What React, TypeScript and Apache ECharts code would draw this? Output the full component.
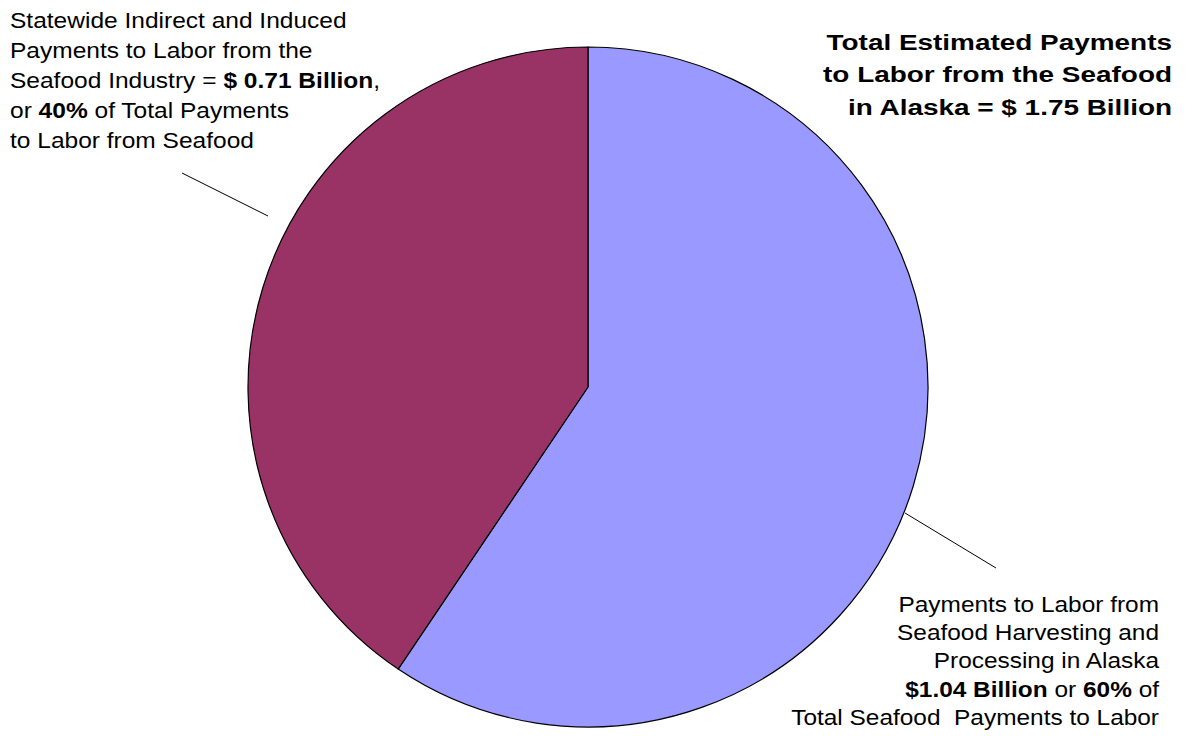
import React, { useEffect, useRef } from "react";
import * as echarts from "echarts";

const categories = [
  "Payments to Labor from Seafood Harvesting and Processing in Alaska",
  "Statewide Indirect and Induced Payments to Labor",
];
const values = [1.04, 0.71];
const colors = ["#9999FF", "#993366"];

const titleLines = [
  "Total Estimated Payments",
  "to Labor from the Seafood",
  "in Alaska = $ 1.75 Billion",
];

const leftLabel =
  "Statewide Indirect and Induced\nPayments to Labor from the\nSeafood Industry = {b|$ 0.71 Billion},\nor {b|40%} of Total Payments\nto Labor from Seafood";

const rightLabel =
  "Payments to Labor from\nSeafood Harvesting and\nProcessing in Alaska\n{b|$1.04 Billion} or {b|60%} of\nTotal Seafood  Payments to Labor";

const FONT = "'Liberation Sans', Arial, sans-serif";

export default function App() {
  const ref = useRef<HTMLDivElement>(null);
  useEffect(() => {
    if (!ref.current) return;
    const chart = echarts.init(ref.current, null, { renderer: "svg" });
    chart.setOption({
      animation: false,
      backgroundColor: "#ffffff",
      series: [
        {
          type: "pie",
          center: [588, 387],
          radius: [0, 340],
          startAngle: 90,
          clockwise: true,
          label: { show: false },
          labelLine: { show: false },
          emphasis: { disabled: true },
          itemStyle: { borderColor: "#000000", borderWidth: 1.2 },
          data: values.map((v, i) => ({
            name: categories[i],
            value: v,
            itemStyle: { color: colors[i] },
          })),
        },
      ],
      graphic: [
        {
          type: "text",
          x: 10,
          y: 5.5,
          scaleX: 1.115,
          style: {
            text: leftLabel,
            fontFamily: FONT,
            fontSize: 22,
            lineHeight: 30,
            fill: "#000",
            align: "left",
            verticalAlign: "top",
            rich: {
              b: { fontWeight: "bold", fontFamily: FONT, fontSize: 22, lineHeight: 30 },
            },
          },
        },
        {
          type: "text",
          x: 1172,
          y: 25.5,
          scaleX: 1.27,
          style: {
            text: titleLines.join("\n"),
            fontFamily: FONT,
            fontSize: 22,
            fontWeight: "bold",
            lineHeight: 32.5,
            fill: "#000",
            align: "right",
            verticalAlign: "top",
          },
        },
        {
          type: "text",
          x: 1159,
          y: 590,
          scaleX: 1.11,
          style: {
            text: rightLabel,
            fontFamily: FONT,
            fontSize: 22,
            lineHeight: 28.3,
            fill: "#000",
            align: "right",
            verticalAlign: "top",
            rich: {
              b: { fontWeight: "bold", fontFamily: FONT, fontSize: 22, lineHeight: 28.3 },
            },
          },
        },
        {
          type: "line",
          shape: { x1: 182, y1: 173, x2: 268, y2: 216 },
          style: { stroke: "#000", lineWidth: 1 },
        },
        {
          type: "line",
          shape: { x1: 905, y1: 513, x2: 996, y2: 568 },
          style: { stroke: "#000", lineWidth: 1 },
        },
      ],
    });
    return () => chart.dispose();
  }, []);
  return (
    <div
      ref={ref}
      style={{ position: "fixed", left: 0, top: 0, width: 1187, height: 736 }}
    />
  );
}
